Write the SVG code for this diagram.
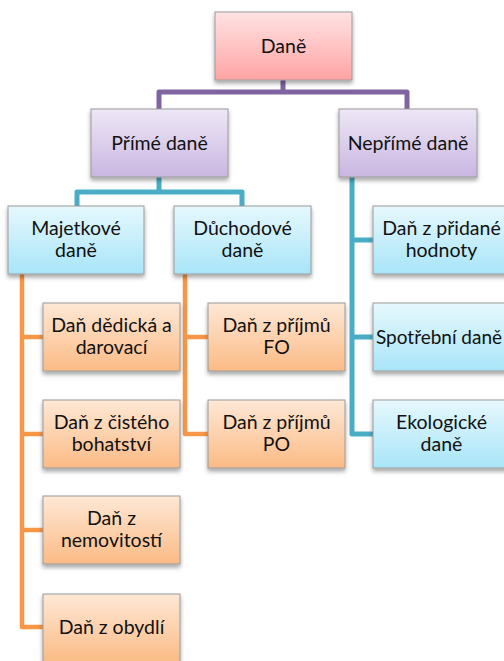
<svg xmlns="http://www.w3.org/2000/svg" width="504" height="661" viewBox="0 0 504 661">
<defs>
<linearGradient id="gPink" x1="0" y1="0" x2="0" y2="1"><stop offset="0" stop-color="#ffe3e3"/><stop offset="1" stop-color="#ffa4a4"/></linearGradient>
<linearGradient id="gPurple" x1="0" y1="0" x2="0" y2="1"><stop offset="0" stop-color="#eee7f6"/><stop offset="1" stop-color="#c9b6e1"/></linearGradient>
<linearGradient id="gBlue" x1="0" y1="0" x2="0" y2="1"><stop offset="0" stop-color="#e6f8fd"/><stop offset="1" stop-color="#a8e5f8"/></linearGradient>
<linearGradient id="gOrange" x1="0" y1="0" x2="0" y2="1"><stop offset="0" stop-color="#fee8d6"/><stop offset="1" stop-color="#fbbb85"/></linearGradient>
<filter id="sh" x="-10%" y="-10%" width="120%" height="130%"><feDropShadow dx="0" dy="3" stdDeviation="2" flood-color="#000" flood-opacity="0.35"/></filter>
</defs>
<style>
rect.b{stroke:#9a9a9a;stroke-width:1;filter:url(#sh)}
.pink{fill:url(#gPink)}.purple{fill:url(#gPurple)}.blue{fill:url(#gBlue)}.orange{fill:url(#gOrange)}
text{font-family:Lato,"Open Sans","Noto Sans",sans-serif;font-size:19.5px;fill:#111;text-anchor:middle}
.c{fill:none;stroke-linejoin:round;stroke-linecap:butt}
.cp{stroke:#8064a2;stroke-width:5}.ct{stroke:#4bacc6;stroke-width:5}.co{stroke:#f79646;stroke-width:4.5}
</style>
<g id="connectors">
<path class="c cp" d="M283,80V92M159,109V92H407V109"/>
<path class="c ct" d="M159,177V192M77,206V192H242V206"/>
<path class="c ct" d="M352,177V434H373M352,240H373M352,337H373"/>
<path class="c co" d="M22,274V627H43M22,337H43M22,434H43M22,530H43"/>
<path class="c co" d="M185,274V434H208M185,337H208"/>
</g>
<g id="n-dane"><rect class="b pink" x="215" y="12" width="137" height="68"/><text x="283.5" y="53">Daně</text></g>
<g id="n-prime"><rect class="b purple" x="91" y="109" width="137" height="68"/><text x="159.5" y="150">Přímé daně</text></g>
<g id="n-neprime"><rect class="b purple" x="339" y="109" width="138" height="68"/><text x="408" y="150">Nepřímé daně</text></g>
<g id="n-majetkove"><rect class="b blue" x="8" y="206" width="136" height="68"/><text x="76" y="235">Majetkové</text><text x="76" y="257">daně</text></g>
<g id="n-duchodove"><rect class="b blue" x="174" y="206" width="137" height="68"/><text x="242.5" y="235">Důchodové</text><text x="242.5" y="257">daně</text></g>
<g id="n-dedicka"><rect class="b orange" x="43" y="303" width="137" height="68"/><text x="111.5" y="332">Daň dědická a</text><text x="111.5" y="354">darovací</text></g>
<g id="n-cisteho"><rect class="b orange" x="43" y="400" width="137" height="68"/><text x="111.5" y="429">Daň z čistého</text><text x="111.5" y="451">bohatství</text></g>
<g id="n-nemovitosti"><rect class="b orange" x="43" y="496" width="137" height="68"/><text x="111.5" y="525">Daň z</text><text x="111.5" y="547">nemovitostí</text></g>
<g id="n-obydli"><rect class="b orange" x="43" y="594" width="137" height="68"/><text x="111.5" y="634">Daň z obydlí</text></g>
<g id="n-fo"><rect class="b orange" x="208" y="303" width="137" height="68"/><text x="276.5" y="332">Daň z příjmů</text><text x="276.5" y="354">FO</text></g>
<g id="n-po"><rect class="b orange" x="208" y="400" width="137" height="68"/><text x="276.5" y="429">Daň z příjmů</text><text x="276.5" y="451">PO</text></g>
<g id="n-dph"><rect class="b blue" x="373" y="206" width="137" height="68"/><text x="441.5" y="235">Daň z přidané</text><text x="441.5" y="257">hodnoty</text></g>
<g id="n-spotrebni"><rect class="b blue" x="373" y="303" width="137" height="68"/><text x="439" y="344" textLength="126" lengthAdjust="spacingAndGlyphs">Spotřební daně</text></g>
<g id="n-ekologicke"><rect class="b blue" x="373" y="400" width="137" height="68"/><text x="441.5" y="429">Ekologické</text><text x="441.5" y="451">daně</text></g>
</svg>
